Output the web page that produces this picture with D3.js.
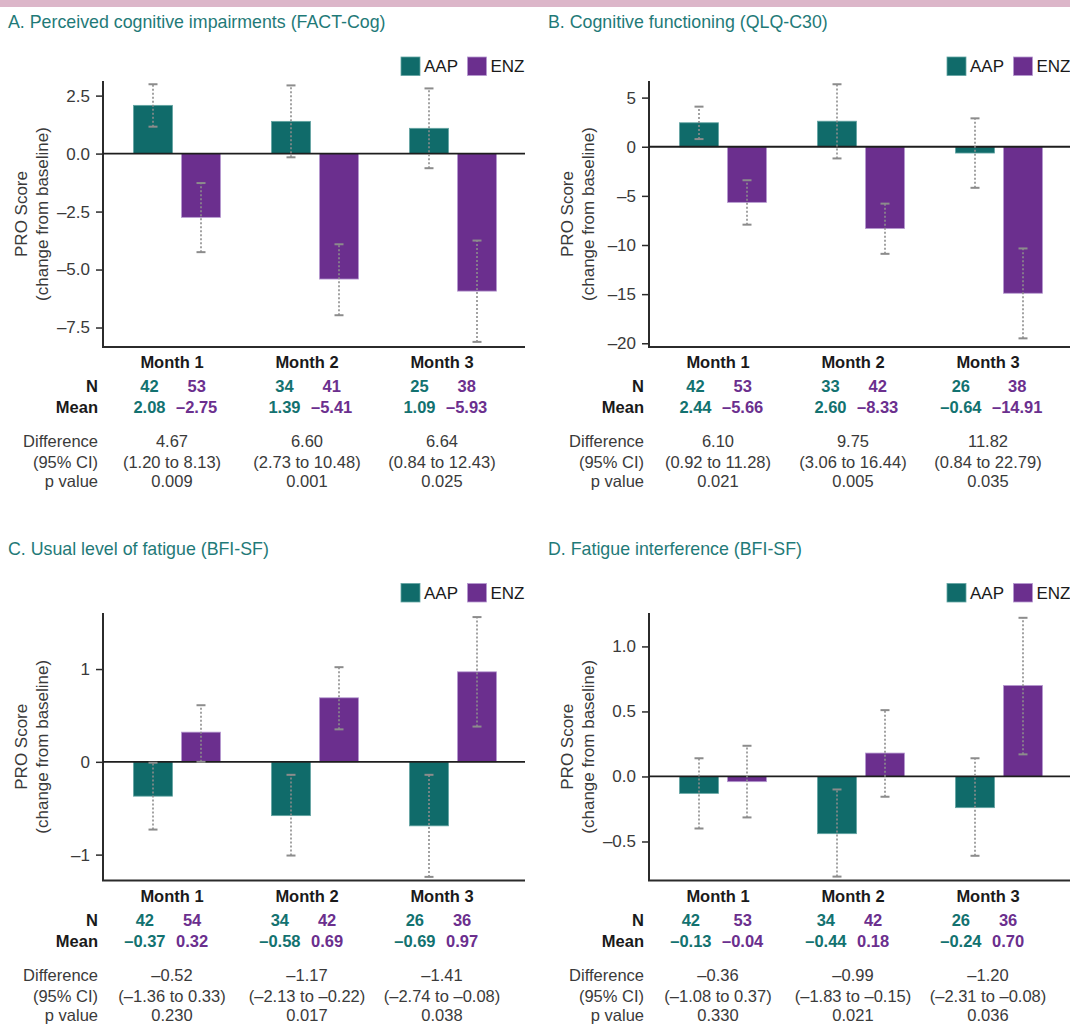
<!DOCTYPE html>
<html>
<head>
<meta charset="utf-8">
<script src="https://cdn.jsdelivr.net/npm/d3@7"></script>
<style>
  body { margin: 0; background: #fff; }
  svg { display: block; font-family: "Liberation Sans", Arial, sans-serif; }
</style>
</head>
<body>
<div id="chart"></div>
<script>
const months = ["Month 1", "Month 2", "Month 3"];
const arms = ["AAP", "ENZ"];

// A. FACT-Cog
const fcogNAap = [42, 34, 25];
const fcogNEnz = [53, 41, 38];
const fcogMeanAap = [2.08, 1.39, 1.09];
const fcogMeanEnz = [-2.75, -5.41, -5.93];
const fcogCiAap = [[1.16, 2.99], [-0.16, 2.94], [-0.63, 2.81]];
const fcogCiEnz = [[-4.25, -1.27], [-6.97, -3.91], [-8.12, -3.75]];
const fcogDiff = [4.67, 6.60, 6.64];
const fcogDiffCi = [[1.20, 8.13], [2.73, 10.48], [0.84, 12.43]];
const fcogP = [0.009, 0.001, 0.025];
const fcogTicks = [2.5, 0, -2.5, -5, -7.5];

// B. QLQ-C30
const qlqNAap = [42, 33, 26];
const qlqNEnz = [53, 42, 38];
const qlqMeanAap = [2.44, 2.60, -0.64];
const qlqMeanEnz = [-5.66, -8.33, -14.91];
const qlqCiAap = [[0.78, 4.08], [-1.19, 6.36], [-4.18, 2.89]];
const qlqCiEnz = [[-7.93, -3.41], [-10.9, -5.79], [-19.5, -10.35]];
const qlqDiff = [6.10, 9.75, 11.82];
const qlqDiffCi = [[0.92, 11.28], [3.06, 16.44], [0.84, 22.79]];
const qlqP = [0.021, 0.005, 0.035];
const qlqTicks = [5, 0, -5, -10, -15, -20];

// C. BFI-SF usual fatigue
const usualNAap = [42, 34, 26];
const usualNEnz = [54, 42, 36];
const usualMeanAap = [-0.37, -0.58, -0.69];
const usualMeanEnz = [0.32, 0.69, 0.97];
const usualCiAap = [[-0.73, -0.01], [-1.01, -0.14], [-1.24, -0.14]];
const usualCiEnz = [[0.0, 0.61], [0.35, 1.02], [0.38, 1.56]];
const usualDiff = [-0.52, -1.17, -1.41];
const usualDiffCi = [[-1.36, 0.33], [-2.13, -0.22], [-2.74, -0.08]];
const usualP = [0.230, 0.017, 0.038];
const usualTicks = [1, 0, -1];

// D. BFI-SF interference
const interfNAap = [42, 34, 26];
const interfNEnz = [53, 42, 36];
const interfMeanAap = [-0.13, -0.44, -0.24];
const interfMeanEnz = [-0.04, 0.18, 0.70];
const interfCiAap = [[-0.40, 0.14], [-0.77, -0.10], [-0.61, 0.14]];
const interfCiEnz = [[-0.315, 0.236], [-0.156, 0.51], [0.17, 1.22]];
const interfDiff = [-0.36, -0.99, -1.20];
const interfDiffCi = [[-1.08, 0.37], [-1.83, -0.15], [-2.31, -0.08]];
const interfP = [0.330, 0.021, 0.036];
const interfTicks = [1.0, 0.5, 0.0, -0.5];

const COLORS = { AAP: "#106b6a", ENZ: "#6b2f8e" };
const STROKES = { AAP: "#64a5a3", ENZ: "#b69ad0" };
const TEXT_COLORS = { AAP: "#137270", ENZ: "#6b2f8e" };
const TITLE_COLOR = "#1f7a78";

const panels = [
  {
    title: "A. Perceived cognitive impairments (FACT-Cog)",
    domain: [-8.34, 3.13], ticks: fcogTicks, tickFormat: ".1f",
    n: [fcogNAap, fcogNEnz], mean: [fcogMeanAap, fcogMeanEnz],
    ci: [fcogCiAap, fcogCiEnz], diff: fcogDiff, diffCi: fcogDiffCi, p: fcogP,
    layout: { x: 103, right: 525, titleX: 8, titleY: 28, legendY: 57, top: 81, bottom: 347 },
  },
  {
    title: "B. Cognitive functioning (QLQ-C30)",
    domain: [-20.38, 6.69], ticks: qlqTicks, tickFormat: "d",
    n: [qlqNAap, qlqNEnz], mean: [qlqMeanAap, qlqMeanEnz],
    ci: [qlqCiAap, qlqCiEnz], diff: qlqDiff, diffCi: qlqDiffCi, p: qlqP,
    layout: { x: 649, right: 1070, titleX: 548, titleY: 28, legendY: 57, top: 81, bottom: 347 },
  },
  {
    title: "C. Usual level of fatigue (BFI-SF)",
    domain: [-1.279, 1.604], ticks: usualTicks, tickFormat: "d",
    n: [usualNAap, usualNEnz], mean: [usualMeanAap, usualMeanEnz],
    ci: [usualCiAap, usualCiEnz], diff: usualDiff, diffCi: usualDiffCi, p: usualP,
    layout: { x: 103, right: 525, titleX: 8, titleY: 555, legendY: 583.5, top: 613, bottom: 880.5 },
  },
  {
    title: "D. Fatigue interference (BFI-SF)",
    domain: [-0.8, 1.257], ticks: interfTicks, tickFormat: ".1f",
    n: [interfNAap, interfNEnz], mean: [interfMeanAap, interfMeanEnz],
    ci: [interfCiAap, interfCiEnz], diff: interfDiff, diffCi: interfDiffCi, p: interfP,
    layout: { x: 649, right: 1070, titleX: 548, titleY: 555, legendY: 583.5, top: 613, bottom: 880.5 },
  },
];

const WIDTH = 1070;
const HEIGHT = 1027;
const BAR_W = 39;
const BAR_OFFSET = 24;

const dash = (s) => s.replace(/[-\u2212]/g, "\u2013");
const fmt = (f) => (v) => dash(d3.format(f)(v));
const fmt2 = fmt(".2f");
const fmt3 = fmt(".3f");

const svg = d3.select("#chart").append("svg")
  .attr("width", WIDTH)
  .attr("height", HEIGHT);

svg.append("rect")
  .attr("x", 0).attr("y", 0)
  .attr("width", WIDTH).attr("height", 7)
  .attr("fill", "#dcb6c9");

const drawPanel = (panel) => {
  const L = panel.layout;
  const g = svg.append("g");

  const y = d3.scaleLinear().domain(panel.domain).range([L.bottom, L.top]);
  const x = d3.scalePoint().domain(months).range([L.x + 74, L.x + 350]);
  const armX = d3.scalePoint().domain(arms).range([-BAR_OFFSET, BAR_OFFSET]);
  const tableX = d3.scalePoint().domain(months).range([L.x + 69, L.x + 339]);

  // title
  g.append("text")
    .attr("x", L.titleX).attr("y", L.titleY)
    .attr("fill", TITLE_COLOR)
    .style("font-size", "17.8px")
    .text(panel.title);

  // legend
  const legend = g.append("g")
    .attr("transform", `translate(${L.x + 298}, ${L.legendY})`);
  arms.forEach((arm, i) => {
    const lg = legend.append("g").attr("transform", `translate(${i * 66.5}, 0)`);
    lg.append("rect")
      .attr("width", 19).attr("height", 18.5)
      .attr("fill", COLORS[arm])
      .attr("stroke", STROKES[arm]).attr("stroke-width", 0.8);
    lg.append("text")
      .attr("x", 23).attr("y", 15)
      .attr("fill", "#1a1a1a")
      .style("font-size", "17px")
      .text(arm);
  });

  // y axis
  const yAxis = d3.axisLeft(y)
    .tickValues(panel.ticks)
    .tickFormat(fmt(panel.tickFormat))
    .tickSize(7)
    .tickPadding(6);
  const yg = g.append("g")
    .attr("transform", `translate(${L.x}, 0)`)
    .call(yAxis);
  yg.select(".domain")
    .attr("d", `M0,${L.top}V${L.bottom}`)
    .attr("stroke", "#2b2b2b").attr("stroke-width", 2);
  yg.selectAll(".tick line").attr("stroke", "#2b2b2b").attr("stroke-width", 1.5);
  yg.selectAll(".tick text")
    .attr("fill", "#3a3a3a")
    .style("font-size", "17px")
    .style("font-family", "'Liberation Sans', Arial, sans-serif");

  // y label
  const midY = (L.top + L.bottom) / 2;
  [["PRO Score", 76], ["(change from baseline)", 55]].forEach(([txt, off]) => {
    g.append("text")
      .attr("transform", `translate(${L.x - off}, ${midY}) rotate(-90)`)
      .attr("text-anchor", "middle")
      .attr("fill", "#3a3a3a")
      .style("font-size", "17px")
      .text(txt);
  });

  // bottom axis line
  g.append("line")
    .attr("x1", L.x - 1).attr("x2", L.right)
    .attr("y1", L.bottom).attr("y2", L.bottom)
    .attr("stroke", "#2b2b2b").attr("stroke-width", 2);

  // bars
  const rows = months.flatMap((m, mi) => arms.map((arm, ai) => ({
    month: m, arm,
    mean: panel.mean[ai][mi],
    lo: panel.ci[ai][mi][0],
    hi: panel.ci[ai][mi][1],
  })));

  g.append("g").selectAll("rect")
    .data(rows)
    .join("rect")
    .attr("x", (d) => x(d.month) + armX(d.arm) - BAR_W / 2)
    .attr("y", (d) => y(Math.max(0, d.mean)))
    .attr("width", BAR_W)
    .attr("height", (d) => Math.abs(y(d.mean) - y(0)))
    .attr("fill", (d) => COLORS[d.arm])
    .attr("stroke", (d) => STROKES[d.arm])
    .attr("stroke-width", 0.8);

  // zero line
  g.append("line")
    .attr("x1", L.x).attr("x2", L.right)
    .attr("y1", y(0)).attr("y2", y(0))
    .attr("stroke", "#1e1e1e").attr("stroke-width", 1.8);

  // error bars
  const eb = g.append("g").selectAll("g")
    .data(rows)
    .join("g")
    .attr("transform", (d) => `translate(${x(d.month) + armX(d.arm)}, 0)`);
  eb.append("line")
    .attr("y1", (d) => y(d.lo)).attr("y2", (d) => y(d.hi))
    .attr("stroke", "#8c8c8c").attr("stroke-width", 1.6)
    .attr("stroke-dasharray", "2,2");
  eb.selectAll(".cap")
    .data((d) => [d.lo, d.hi])
    .join("line")
    .attr("class", "cap")
    .attr("x1", -4.5).attr("x2", 4.5)
    .attr("y1", (v) => y(v)).attr("y2", (v) => y(v))
    .attr("stroke", "#8c8c8c").attr("stroke-width", 2);

  // table
  const t = g.append("g").style("font-size", "16.5px");
  const b = L.bottom;
  t.selectAll(".month")
    .data(months)
    .join("text")
    .attr("class", "month")
    .attr("x", (m) => tableX(m)).attr("y", b + 21)
    .attr("text-anchor", "middle")
    .attr("font-weight", "bold")
    .attr("fill", "#1a1a1a")
    .text((m) => m);

  [["N", 45], ["Mean", 66]].forEach(([lbl, off]) => {
    t.append("text")
      .attr("x", L.x - 5).attr("y", b + off)
      .attr("text-anchor", "end")
      .attr("font-weight", "bold")
      .attr("fill", "#1a1a1a")
      .text(lbl);
  });

  // means: AAP right-aligned, ENZ left-aligned around the column; N centred above each mean
  months.forEach((m, mi) => {
    arms.forEach((arm, ai) => {
      const isAap = ai === 0;
      const meanText = t.append("text")
        .attr("x", tableX(m) + (isAap ? -6.5 : 4))
        .attr("y", b + 66)
        .attr("text-anchor", isAap ? "end" : "start")
        .attr("font-weight", "bold")
        .attr("fill", TEXT_COLORS[arm])
        .text(fmt2(panel.mean[ai][mi]));
      const w = meanText.node().getComputedTextLength();
      const cx = isAap ? tableX(m) - 6.5 - w / 2 : tableX(m) + 4 + w / 2;
      t.append("text")
        .attr("x", cx).attr("y", b + 45)
        .attr("text-anchor", "middle")
        .attr("font-weight", "bold")
        .attr("fill", TEXT_COLORS[arm])
        .text(panel.n[ai][mi]);
    });
  });

  const statRows = [
    ["Difference", 100, (mi) => fmt2(panel.diff[mi])],
    ["(95% CI)", 121, (mi) => `(${fmt2(panel.diffCi[mi][0])} to ${fmt2(panel.diffCi[mi][1])})`],
    ["p value", 140, (mi) => fmt3(panel.p[mi])],
  ];
  statRows.forEach(([lbl, off, val]) => {
    t.append("text")
      .attr("x", L.x - 5).attr("y", b + off)
      .attr("text-anchor", "end")
      .attr("fill", "#3a3a3a")
      .text(lbl);
    t.append("g").selectAll("text")
      .data(months)
      .join("text")
      .attr("x", (m) => tableX(m)).attr("y", b + off)
      .attr("text-anchor", "middle")
      .attr("fill", "#3a3a3a")
      .text((m, mi) => val(mi));
  });
};

panels.forEach(drawPanel);
</script>
</body>
</html>
